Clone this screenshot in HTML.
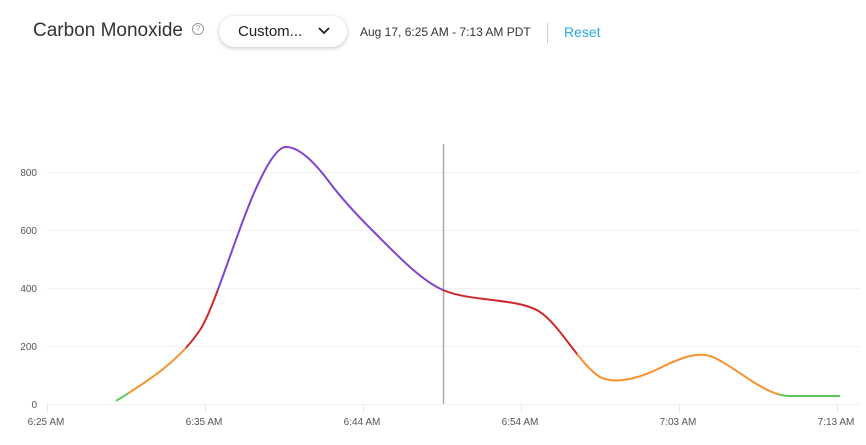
<!DOCTYPE html>
<html><head><meta charset="utf-8"><style>
body{margin:0;width:866px;height:445px;background:#fff;font-family:"Liberation Sans",sans-serif;overflow:hidden;position:relative}
.t{position:absolute;left:33px;top:20px;font-size:19px;color:#333}
.q{position:absolute;left:192px;top:23px;width:10px;height:10px;border:1px solid #999;border-radius:50%;font-size:8px;color:#999;text-align:center;line-height:10px}
.dd{position:absolute;left:219px;top:16px;width:128px;height:31px;border-radius:16px;box-shadow:0 1px 4px rgba(0,0,0,.25);background:#fff}
.dd span{position:absolute;left:19px;top:7px;font-size:15px;color:#222}
.dt{position:absolute;left:360px;top:25px;font-size:12px;color:#333}
.sep{position:absolute;left:547px;top:23px;width:1px;height:20px;background:#ccc}
.rs{position:absolute;left:564px;top:24px;font-size:14px;color:#29abe2}
</style></head><body>
<div class="t">Carbon Monoxide</div><div class="q">?</div>
<div class="dd"><span>Custom...</span><svg style="position:absolute;left:99px;top:11px" width="12" height="8"><path d="M1,1 L6,6 L11,1" fill="none" stroke="#222" stroke-width="1.8"/></svg></div>
<div class="dt">Aug 17, 6:25 AM - 7:13 AM PDT</div><div class="sep"></div><div class="rs">Reset</div>
<svg width="866" height="445" style="position:absolute;left:0;top:0">
<defs><linearGradient id="g" gradientUnits="userSpaceOnUse" x1="0" y1="0" x2="866" y2="0">
<stop offset="0" stop-color="#5ac85a"/><stop offset="0.1478" stop-color="#5ac85a"/>
<stop offset="0.1478" stop-color="#f7902f"/><stop offset="0.2148" stop-color="#f7902f"/>
<stop offset="0.2148" stop-color="#cc2a2a"/><stop offset="0.2517" stop-color="#cc2a2a"/>
<stop offset="0.2517" stop-color="#8144d0"/><stop offset="0.5115" stop-color="#8144d0"/>
<stop offset="0.5115" stop-color="#cc2a2a"/><stop offset="0.6663" stop-color="#cc2a2a"/>
<stop offset="0.6663" stop-color="#f7902f"/><stop offset="0.9" stop-color="#f7902f"/>
<stop offset="0.9" stop-color="#5ac85a"/><stop offset="1" stop-color="#5ac85a"/>
</linearGradient></defs>
<g stroke="#f0f0f0" stroke-width="1">
<line x1="47" x2="860" y1="172.5" y2="172.5"/><line x1="47" x2="860" y1="230.5" y2="230.5"/>
<line x1="47" x2="860" y1="288.5" y2="288.5"/><line x1="47" x2="860" y1="346.5" y2="346.5"/>
<line x1="47" x2="860" y1="404.5" y2="404.5"/>
</g>
<g stroke="#e6e6e6"><line x1="47.5" x2="47.5" y1="404" y2="412"/><line x1="205.5" x2="205.5" y1="404" y2="412"/><line x1="363.5" x2="363.5" y1="404" y2="412"/><line x1="521.5" x2="521.5" y1="404" y2="412"/><line x1="679.5" x2="679.5" y1="404" y2="412"/><line x1="837.5" x2="837.5" y1="404" y2="412"/></g>
<g font-size="10" fill="#555" text-anchor="end"><text x="37" y="176">800</text><text x="37" y="234">600</text><text x="37" y="292">400</text><text x="37" y="350">200</text><text x="37" y="408">0</text></g>
<g font-size="10" fill="#555" text-anchor="middle"><text x="46" y="425">6:25 AM</text><text x="204" y="425">6:35 AM</text><text x="362" y="425">6:44 AM</text><text x="520" y="425">6:54 AM</text><text x="678" y="425">7:03 AM</text><text x="836" y="425">7:13 AM</text></g>
<line x1="443.5" x2="443.5" y1="144" y2="404" stroke="#aaa" stroke-width="1.5"/>
<path fill="none" stroke="url(#g)" stroke-width="2" d="M116,401 C150,380 180,360 200,330 C215,307.5 240,220 260,180 C272,155 280,147 286,147 C300,147 316,164 330,183 C343,200 355,213 370,228 C395,253 420,280 443,290 C470,302 520,298 540,312 C560,325 580,365 600,377 C615,385 640,378 660,368 C680,358 700,350 715,358 C740,370 765,396 790,396 L840,396"/>
</svg>
</body></html>
